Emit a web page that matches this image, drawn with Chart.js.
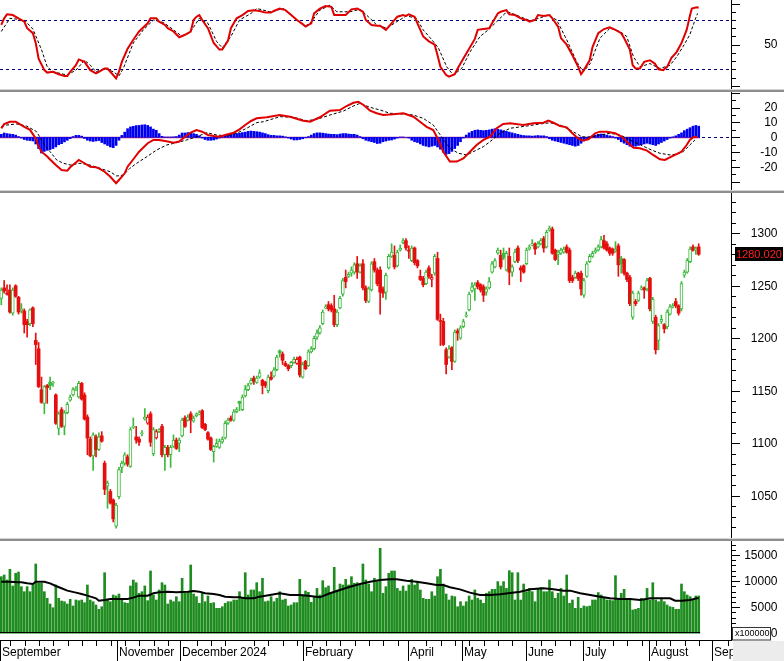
<!DOCTYPE html>
<html>
<head>
<meta charset="utf-8">
<script src="https://cdn.jsdelivr.net/npm/chart.js"></script>
<style>
  html, body { margin: 0; padding: 0; background: #fff; }
  #wrap { position: relative; width: 784px; height: 661px; overflow: hidden; background: #fff; }
  canvas { position: absolute; left: 0; }
  .sep { position: absolute; left: 0; width: 784px; height: 3px; box-sizing: border-box;
         border-top: 1px solid #d4d4d4; background: #8e8e8e; }
</style>
</head>
<body>
<div id="wrap">
  <canvas id="stoch" width="784" height="89" style="top:0"></canvas>
  <div class="sep" style="top:89px"></div>
  <canvas id="macd" width="784" height="98" style="top:92px"></canvas>
  <div class="sep" style="top:190px"></div>
  <canvas id="price" width="784" height="345" style="top:193px"></canvas>
  <div class="sep" style="top:538px"></div>
  <canvas id="vol" width="784" height="120" style="top:541px"></canvas>
</div>
<script>
// ---- data (one entry per trading day, index 0 = early Sep 2023) ----
const opens = [1238,1248,1243,1246,1224,1250,1239,1226,1226,1216, 1214,1229,1198,1190,1151,1138,1155,1158,1157,1146,
  1114,1132,1116,1129,1141,1146,1151,1144,1157,1146, 1125,1104,1088,1106,1094,1107,1081,1059,1054,1046,
  1021,1049,1077,1081,1087,1078,1115,1106,1104,1109, 1123,1119,1128,1090,1105,1111,1116,1089,1096,1089,
  1097,1103,1100,1107,1124,1122,1128,1121,1126,1128, 1131,1118,1110,1105,1092,1097,1096,1101,1105,1119,
  1124,1122,1130,1140,1132,1145,1151,1157,1162,1158, 1163,1160,1158,1150,1163,1164,1170,1188,1185,1176,
  1174,1174,1177,1176,1182,1163,1178,1174,1187,1190, 1201,1205,1214,1229,1232,1231,1228,1213,1229,1242,
  1258,1259,1262,1263,1271,1263,1271,1248,1235,1246, 1273,1265,1265,1247,1244,1267,1278,1279,1269,1284,
  1291,1293,1284,1274,1286,1274,1259,1257,1252,1267, 1256,1262,1276,1217,1216,1189,1182,1191,1178,1207,
  1200,1211,1221,1227,1245,1247,1253,1251,1249,1244, 1248,1263,1268,1281,1279,1281,1265,1278,1263,1273,
  1286,1267,1269,1271,1285,1289,1290,1287,1290,1295, 1287,1303,1304,1284,1280,1281,1282,1287,1284,1258,
  1258,1262,1262,1241,1259,1273,1278,1282,1284,1287, 1293,1290,1286,1285,1283,1288,1276,1275,1262,1258,
  1220,1235,1236,1247,1248,1247,1257,1216,1220,1198, 1216,1213,1211,1223,1230,1235,1231,1228,1260,1263,
  1273,1287,1284,1287];
const highs = [1248,1255,1251,1251,1248,1251,1240,1233,1228,1218, 1228,1230,1205,1196,1163,1155,1156,1163,1159,1147,
  1130,1134,1131,1139,1146,1153,1154,1159,1158,1148, 1127,1106,1110,1108,1110,1111,1083,1064,1056,1047,
  1043,1077,1083,1091,1089,1115,1124,1116,1106,1112, 1133,1127,1130,1115,1113,1114,1118,1098,1098,1098,
  1108,1105,1105,1124,1126,1127,1130,1126,1129,1131, 1132,1119,1111,1106,1098,1104,1104,1106,1121,1124,
  1126,1132,1134,1140,1146,1155,1157,1162,1164,1164, 1170,1161,1159,1165,1168,1172,1184,1189,1187,1178,
  1175,1178,1182,1182,1183,1177,1179,1189,1192,1202, 1208,1212,1227,1232,1235,1233,1241,1227,1240,1257,
  1265,1263,1268,1272,1278,1271,1275,1250,1249,1273, 1276,1267,1268,1249,1262,1280,1290,1288,1284,1289,
  1295,1295,1288,1288,1287,1275,1265,1259,1265,1269, 1261,1280,1282,1223,1219,1191,1193,1192,1208,1209,
  1212,1218,1225,1244,1253,1253,1255,1252,1251,1249, 1258,1273,1276,1286,1284,1286,1283,1286,1270,1285,
  1288,1269,1270,1286,1289,1294,1291,1292,1295,1297, 1303,1307,1306,1285,1284,1286,1287,1289,1286,1260,
  1264,1263,1264,1257,1273,1280,1283,1286,1289,1297, 1298,1292,1287,1286,1292,1290,1278,1276,1263,1260,
  1245,1237,1245,1250,1249,1257,1258,1239,1222,1214, 1222,1214,1227,1232,1233,1238,1232,1254,1265,1276,
  1287,1289,1287,1290];
const lows = [1232,1243,1241,1224,1222,1239,1223,1224,1205,1201, 1212,1211,1175,1153,1138,1128,1138,1151,1154,1118,
  1108,1115,1108,1128,1140,1145,1150,1143,1141,1122, 1089,1087,1074,1087,1093,1101,1051,1038,1042,1025,
  1019,1047,1072,1079,1078,1077,1114,1100,1098,1107, 1122,1118,1097,1088,1104,1110,1087,1074,1087,1077,
  1096,1094,1092,1106,1115,1121,1110,1120,1125,1127, 1114,1112,1103,1093,1082,1096,1095,1100,1104,1118,
  1121,1121,1129,1131,1131,1144,1150,1156,1156,1157, 1162,1147,1153,1148,1160,1163,1169,1182,1175,1173,
  1169,1172,1176,1175,1163,1162,1170,1173,1186,1189, 1199,1204,1213,1228,1226,1225,1211,1211,1228,1240,
  1248,1258,1259,1261,1257,1262,1246,1234,1234,1245, 1263,1250,1223,1239,1237,1266,1277,1266,1268,1283,
  1290,1284,1276,1273,1270,1267,1255,1249,1251,1257, 1249,1260,1217,1193,1193,1166,1181,1170,1177,1198,
  1199,1210,1220,1226,1244,1236,1247,1244,1235,1241, 1247,1262,1267,1280,1266,1275,1264,1251,1259,1272,
  1272,1254,1262,1270,1284,1288,1280,1286,1289,1282, 1286,1302,1280,1274,1270,1280,1281,1281,1253,1253,
  1257,1255,1241,1239,1258,1272,1277,1281,1283,1286, 1285,1283,1279,1279,1282,1259,1262,1260,1254,1231,
  1218,1231,1235,1246,1238,1245,1226,1214,1185,1189, 1214,1205,1209,1222,1229,1229,1222,1226,1258,1262,
  1272,1283,1280,1279];
const closes = [1246,1245,1242,1225,1246,1240,1225,1228,1213,1213, 1227,1214,1194,1154,1139,1154,1153,1155,1158,1119,
  1128,1116,1129,1137,1144,1151,1152,1157,1142,1123, 1105,1088,1108,1094,1106,1102,1056,1062,1043,1028,
  1041,1075,1081,1089,1080,1113,1116,1103,1101,1110, 1125,1125,1101,1113,1111,1113,1089,1096,1089,1096,
  1103,1095,1103,1122,1116,1125,1122,1124,1128,1129, 1115,1113,1104,1094,1097,1100,1102,1104,1119,1122,
  1122,1130,1132,1138,1144,1151,1155,1160,1159,1162, 1167,1155,1155,1163,1161,1170,1182,1186,1179,1174,
  1171,1177,1180,1180,1165,1175,1171,1187,1190,1200, 1205,1210,1225,1230,1228,1227,1213,1225,1238,1255,
  1254,1261,1265,1270,1263,1269,1248,1236,1247,1271, 1265,1252,1244,1243,1260,1278,1282,1268,1282,1286,
  1293,1286,1283,1286,1272,1269,1256,1251,1263,1259, 1258,1278,1218,1216,1194,1175,1190,1178,1206,1205,
  1210,1216,1222,1242,1249,1251,1249,1246,1241,1247, 1254,1271,1274,1284,1268,1277,1281,1263,1268,1282,
  1274,1265,1263,1284,1287,1290,1285,1290,1293,1286, 1301,1305,1281,1275,1282,1284,1285,1282,1255,1255,
  1262,1257,1247,1255,1271,1278,1281,1284,1287,1294, 1286,1284,1281,1281,1285,1270,1271,1262,1256,1233,
  1243,1233,1243,1248,1246,1255,1228,1237,1189,1212, 1218,1209,1225,1230,1231,1231,1224,1252,1263,1274,
  1285,1284,1286,1280.02];

// volume, units of 100000 shares
const volumes = [10845,11170,10212,12262,9063,11496,11745,8929,7970,8929, 7970,9254,13278,9580,9580,7970,6706,5614,4905,9254,
  6706,6189,6054,5614,6514,5231,6380,6246,6380,5863, 9254,6380,6054,5422,4598,5096,11611,6380,6054,7338,
  7147,7530,6514,5863,5748,9063,10212,9695,7664,7970, 9063,6246,11937,7338,6380,8296,9695,9254,5614,6380,
  6054,7013,6054,10538,7664,7970,13086,7530,7013,5748, 7664,6054,7147,5748,5863,4790,4790,5096,5748,6054,
  6054,6380,6380,7970,6706,11611,7338,8296,8296,9695, 7970,10538,6054,6189,7013,6054,6706,7970,6380,6550,
  5231,5422,5863,5863,10340,7338,8100,7850,5930,7013, 8600,7338,10080,8740,9063,7664,12640,8296,9440,9254,
  10340,9254,10845,9580,9695,9254,13278,10212,9440,7970, 10538,9900,16286,7664,8929,11496,11937,11937,8600,8100,
  9063,8100,9254,10340,9254,9695,8296,6706,6514,6514, 7970,7147,10845,12262,9440,7530,6380,7147,7013,5096,
  6054,5231,6054,7147,6380,8296,6706,6380,5748,7664, 7970,8420,8420,9900,9063,9900,8600,12000,11611,6380,
  11611,6380,9440,7970,8600,7970,6054,8420,8800,7970, 7970,10212,7970,6706,7664,8600,7147,11170,5748,6380,
  4790,6900,4790,5231,5096,5231,6380,6380,7800,7338, 6850,6380,6380,6246,11040,6706,7664,8420,6380,6706,
  4470,4598,4790,6706,6380,8600,6380,9695,6380,6054, 6706,6054,5422,5096,4970,4598,4598,9440,7970,7338,
  7013,6380,7147,7147];

// volume moving average, [day index, value]
const volAvg = [[0,9890],[3,9890],[6,9770],[7,9770],[9,9570],[11,9450],[12,9890],[15,9890],[17,9570],[19,9060],
  [21,8620],[23,8170],[26,7790],[28,7530],[30,7210],[33,6700],[34,6250],[36,6380],[38,6570],[41,6570],[44,6570],
  [46,6830],[48,7210],[51,7210],[53,7660],[55,7850],[58,7980],[61,7850],[65,7980],[67,8100],[69,7980],[71,7660],
  [74,7530],[76,7340],[78,7020],[81,6890],[83,6890],[85,6700],[88,6700],[90,7020],[93.6,7340],[97.1,7660],
  [100.6,7340],[104.1,7340],[107.6,7150],[111,6890],[114.5,7660],[118,8300],[121.5,8930],[125,9450],[128.5,9890],
  [132,10210],[135.4,10340],[137.8,10340],[141.2,10080],[144.7,9890],[148.2,9570],[151.7,9250],[154,9250],
  [156.3,8810],[159.8,8420],[163.3,7790],[166.8,7340],[170.3,7340],[173.8,7470],[177.3,7720],[180.8,7980],
  [184.3,8420],[188.9,8620],[192.4,8420],[195.9,8170],[198.2,8170],[201.7,7660],[205.2,7340],[208.6,7020],
  [212.1,6700],[215.6,6570],[219.1,6570],[222.6,6380],[226.1,6700],[229.5,6700],[233,6700],[234.8,6250],
  [237.1,6250],[240,6380],[242.3,6700],[243,6700]];

// stochastic %K and %D, [day index, value]
const stochK = [[0,74],[1,82],[2,87],[4,86],[6,82],[8,78],[9,70],[11,64],[12,52],[13,33],[15,19],[16,16],[18,17],
  [20,14],[22,12],[23,12],[24,17],[26,25],[27,32],[29,29],[31,19],[33,15],[34,17],[36,21],[37,21],[38,17],[40,9],
  [41,17],[42,29],[44,45],[46,56],[48,66],[51,76],[52,82],[54,82],[55,78],[57,74],[58,70],[60,66],[62,59],[64,62],
  [66,66],[67,80],[68,84],[69,86],[70,80],[72,70],[74,52],[76,44],[77,44],[79,55],[80,70],[82,82],[84,86],[86,91],
  [88,92],[90,91],[92,89],[94,89],[95,91],[97,94],[99,92],[101,86],[103,80],[105,75],[106,72],[108,76],[109,88],
  [111,94],[113,97],[115,96],[116,86],[118,86],[120,86],[122,93],[124,94],[126,90],[127,80],[129,74],[131,73],
  [132,73],[134,68],[135,72],[138,84],[140,86],[141,85],[142,87],[144,84],[145,76],[146,68],[147,60],[149,54],
  [151,50],[152,37],[153,23],[155,13],[156,11],[158,14],[159,21],[161,33],[163,45],[165,57],[166,68],[168,69],
  [170,70],[171,76],[173,88],[174,90],[176,92],[177,87],[179,86],[181,82],[183,80],[184,78],[186,80],[187,86],
  [189,85],[191,86],[192,82],[194,72],[195,58],[197,50],[199,37],[201,23],[202,14],[203,19],[205,31],[206,47],
  [208,64],[210,69],[212,71],[214,68],[216,64],[217,58],[219,44],[220,25],[221,21],[222.5,21],[224,29],[226,31],
  [227.7,27],[229,20],[230.6,19],[232,23],[233.5,34],[235.3,41],[237,52],[238.8,68],[240,86],[240.6,94],
  [242.3,95.4],[243,95]];
const stochD = [[0,66],[3,82],[8,80],[11,69],[14,44],[16,23],[18,17],[23,13],[26,19],[29,31],[31,25],[33,17],
  [36,21],[39,17],[41,12],[42.5,21],[46,52],[49.5,68],[53,80],[56.5,77],[60,68],[63,60],[66,66],[69,82],[72,76],
  [75,54],[77,46],[80,60],[83,80],[87,88],[89,94],[93.6,90],[98.3,94],[101.8,84],[105.8,72],[108.1,78],[111,92],
  [114.5,98],[116.9,90],[121.5,90],[125,93],[127.9,84],[130.8,74],[134.3,70],[137.8,78],[141.2,85],[144.7,82],
  [147,68],[150,56],[152.3,46],[155.2,23],[157.5,13],[160.4,21],[163.3,41],[166.8,60],[169.7,68],[172.6,78],
  [175.5,88],[177.3,89],[180.8,84],[184.3,79],[187.2,82],[190.6,86],[193.5,80],[197,56],[200.5,29],[202.8,17],
  [205.2,27],[208.6,58],[212.1,70],[215.6,66],[217.9,60],[220.3,35],[222.6,23],[226,27],[229.5,21],[233,25],
  [235.5,36],[237.6,48],[239.9,62],[241.7,80],[242.6,88]];

// MACD line, signal line [day index, value] and histogram (one per day)
const macdLine = [[0,6],[1,9],[3,10.5],[5,10.5],[6,9.4],[8,7],[10,5],[12,-0.7],[13,-6.3],[14,-9.7],[16,-13],[17,-15],
  [19,-18.7],[21,-22],[23,-22.5],[24,-20.2],[26,-17],[27,-15.3],[29,-17.5],[31,-19.8],[33,-20.2],[34,-21],[36,-23.2],
  [38,-26.6],[40,-31],[41,-28.8],[43,-24.3],[44,-19.8],[46,-14.8],[48,-9.7],[51,-4],[53,-1.8],[55,-1.8],[58,-2.9],
  [60,-3.6],[62,-2.9],[64,0.4],[66,3.1],[68,4.9],[70,3.8],[72,1.6],[74,0.9],[76,0.4],[78,1.6],[81,3.1],[83,5.4],
  [85,8.3],[87,11],[89,12.8],[92.5,13.5],[97,15],[100.6,13.9],[105.2,11.2],[107.6,10.5],[111,13.5],[114.5,17.9],
  [118,18.4],[120.3,21.1],[122.7,23.3],[124.4,24],[126.2,21.8],[128.5,18],[130.8,16.2],[133.1,15],[136.6,15.5],
  [140.1,16.2],[143.6,13.9],[145.9,10.5],[148.2,7.1],[150.5,4.9],[152.3,-1.8],[154,-9.7],[156.3,-16.4],
  [158.7,-16.4],[161,-14.2],[163.3,-9.7],[165.6,-5.2],[168,-1.8],[170.3,0.4],[172.6,6.1],[174.9,9],[177.3,9.4],
  [181.9,8.3],[185.4,9.4],[188.9,9.8],[190.6,11.2],[192.4,9.8],[194.7,7.6],[197,6.7],[198.8,3.1],[200.5,0],
  [202.3,-2.3],[204.6,-1.3],[206.9,2.7],[208.6,3.8],[211,3.8],[213.9,2.7],[216.2,0.4],[218.5,-4],[220.3,-7],
  [222.5,-7.4],[225,-9],[227.1,-11.9],[229.5,-14.8],[231.2,-15.3],[233.5,-13],[235.3,-11.3],[237,-9.7],
  [238.8,-5.2],[239.9,-1.8],[241.1,0],[242.5,0.4]];
const macdSignal = [[0,7.1],[1.9,8.3],[5.4,9],[8.8,7.6],[12.3,3.8],[14.7,-4],[17,-9.7],[19.3,-15.3],[21.6,-17.5],
  [24,-18.7],[27.4,-17.5],[30.9,-18.7],[34.4,-20.9],[37.9,-23.2],[40.2,-26.1],[42.5,-25.5],[44.8,-20.9],
  [47.2,-17.5],[50.7,-13.1],[54.1,-8.6],[57.6,-5.2],[61.1,-3.6],[64.6,-1.8],[68.1,0.4],[71.6,3.1],[75,1.6],
  [78.5,0.9],[82,2.7],[85.5,6.1],[89,9.9],[91.3,10.5],[97.1,13.9],[101.8,13.5],[106.4,11.2],[109.9,12.1],
  [114.5,15],[119.2,17.7],[122.7,21.1],[125,22.9],[128.5,20.2],[132,18.4],[135.4,16.2],[140.1,15.7],[143.6,15],
  [147,12.8],[150.5,8.3],[153.4,0.4],[156.3,-7.4],[159.3,-10.8],[162.2,-11.9],[165.6,-8.6],[168,-6.3],
  [170.3,-2.9],[173.8,2.7],[177.3,6.1],[183.1,7.6],[187.7,9],[191.2,9.8],[194.7,8.3],[198.2,4.9],[202.3,0.4],
  [205.2,0],[208.6,1.6],[212.1,2.7],[215.6,1.6],[219.1,-1.8],[222.6,-5],[226,-8.1],[229.5,-10.8],[233,-11.9],
  [235.3,-11.3],[237.6,-9.7],[239.9,-5.2],[241.7,-1.8]];
const macdHist = [2.0,2.9,2.5,2.2,2.0,1.5,0.5,-0.5,-1.5,-2.0, -2.2,-2.5,-4.5,-7.6,-10.6,-9.5,-8.8,-8.3,-7.6,-6.5,
  -5.0,-4.3,-3.1,-2.0,-0.9,0.5,1.3,1.3,0.8,-0.8, -2.0,-2.5,-2.8,-2.5,-2.2,-3.5,-4.5,-5.5,-6.5,-7.0,
  -5.5,-2.0,1.3,3.5,5.8,7.0,7.4,7.9,8.0,8.3, 8.5,8.0,7.0,5.5,4.7,2.5,0.7,0.2,0.2,0.2,
  0.3,0.5,1.5,2.9,2.9,3.2,3.0,2.5,2.0,1.0, -0.5,-1.5,-2.0,-2.0,-1.8,-1.2,-0.5,0.5,1.2,1.5,
  2.0,2.5,2.5,2.8,3.2,3.5,4.0,4.2,4.0,3.8, 3.5,3.0,2.5,1.8,1.3,1.3,1.0,1.0,0.8,0.3,
  -0.5,-1.2,-1.8,-1.8,-1.5,-1.0,-0.3,0.5,1.5,2.5, 3.0,3.0,2.8,2.5,2.2,2.0,2.0,1.8,2.2,2.5,
  2.5,2.2,2.0,2.0,1.5,0.5,-1.0,-2.0,-2.5,-3.0, -3.5,-4.2,-4.0,-3.0,-2.5,-2.0,-1.8,-1.2,-0.5,0.2,
  0.2,0.0,-0.5,-2.0,-3.0,-3.5,-4.5,-5.5,-6.0,-6.5, -6.0,-5.5,-6.5,-8.0,-10.0,-11.5,-11.0,-9.5,-7.6,-5.5,
  -3.0,-0.5,1.5,3.0,4.0,4.7,5.0,4.7,4.5,4.7, 5.0,5.5,5.8,5.5,5.0,4.5,4.0,3.5,3.0,2.5,
  2.0,1.5,1.2,1.0,1.0,0.8,1.0,1.2,1.0,1.0, 0.5,-1.0,-2.0,-2.5,-3.0,-3.5,-4.0,-4.5,-5.0,-5.5,
  -6.0,-5.5,-4.0,-2.5,-1.0,0.5,1.0,1.5,2.0,2.2, 2.0,1.5,1.0,0.5,-0.5,-1.5,-3.0,-4.0,-5.0,-6.0,
  -6.5,-6.0,-5.5,-5.0,-4.5,-4.0,-4.5,-5.0,-5.5,-4.5, -3.5,-2.5,-1.5,-0.5,0.3,1.0,2.0,3.0,4.5,5.5,
  6.5,7.5,8.0,7.5];

// x axis: month starts (day index), labels
const monthPos = [-0.45, 40.2, 62.1, 82.4, 105, 141.8, 160.6, 182.7, 202.8, 225.7, 247.6];
const monthLabels = ['September', 'November', 'December', '2024', 'February', 'April', 'May', 'June', 'July', 'August', 'Sep'];
const monthDivider = [true, true, true, false, true, true, true, true, true, true, true];

// right axis labels
const stochTicks = ['50'];
const macdTicks = ['20', '10', '0', '-10', '-20'];
const priceTicks = ['1300', '1250', '1200', '1150', '1100', '1050'];
const volTicks = ['15000', '10000', '5000', '0'];

// ---- drawing ----
const FONT = '"Liberation Sans", Arial, sans-serif';
const X_MIN = -0.453, X_MAX = 254.25;
const RED = '#e50f0f', GREEN = '#3cb83c', NAVY = '#000080';

const pts = arr => arr.map(([x, y]) => ({ x, y }));

function baseOptions(yMin, yMax, showX) {
  const x = {
    type: 'linear', min: X_MIN, max: X_MAX, offset: false, display: showX,
    grid: { display: false }, ticks: { display: false },
    border: { display: true, color: '#000', width: 1 }
  };
  if (showX) x.afterFit = s => { s.height = 21; };
  return {
    responsive: false,
    animation: false,
    events: [],
    layout: { padding: 0 },
    plugins: { legend: { display: false }, tooltip: { enabled: false } },
    scales: {
      x,
      y: {
        type: 'linear', position: 'right', min: yMin, max: yMax,
        grid: { display: false }, ticks: { display: false },
        border: { display: true, color: '#000', width: 1 },
        afterFit: s => { s.width = 53; }
      }
    }
  };
}

// tick marks + labels on the right axis, reference lines under the data
function panelDecor(cfg) {
  return {
    id: 'panelDecor',
    beforeDatasetsDraw(chart) {
      const { ctx, chartArea: a } = chart;
      const xs = chart.scales.x, ys = chart.scales.y;
      (cfg.lines || []).forEach(l => {
        const py = Math.round(ys.getPixelForValue(l.v)) + 0.5;
        const xa = l.from != null ? xs.getPixelForValue(l.from) : a.left;
        const xb = l.to != null ? xs.getPixelForValue(l.to) : a.right;
        ctx.save();
        ctx.strokeStyle = l.color;
        ctx.lineWidth = l.width || 1;
        ctx.setLineDash(l.dash || []);
        ctx.beginPath();
        ctx.moveTo(xa, py);
        ctx.lineTo(xb, py);
        ctx.stroke();
        ctx.restore();
      });
    },
    afterDraw(chart) {
      const { ctx, chartArea: a } = chart;
      const ys = chart.scales.y;
      const x0 = a.right + 1;
      ctx.save();
      ctx.fillStyle = '#000';
      for (let v = cfg.from; v <= cfg.to + 1e-6; v += cfg.minor) {
        const py = Math.round(ys.getPixelForValue(v));
        const r = v / cfg.major;
        const major = Math.abs(r - Math.round(r)) < 1e-6;
        ctx.fillRect(x0, py, major ? 8 : 4, 1);
      }
      if (cfg.after) cfg.after(chart, ctx);
      ctx.font = '12px ' + FONT;
      ctx.textAlign = 'right';
      ctx.textBaseline = 'middle';
      ctx.fillStyle = '#000';
      cfg.labels.forEach(t => ctx.fillText(t, 777.5, ys.getPixelForValue(parseFloat(t)) + 0.5));
      ctx.restore();
    }
  };
}

// ---- stochastic panel ----
new Chart(document.getElementById('stoch'), {
  type: 'line',
  data: {
    datasets: [
      { data: pts(stochK), borderColor: '#e00000', borderWidth: 2, pointRadius: 0, tension: 0 },
      { data: pts(stochD), borderColor: '#000', borderWidth: 1, borderDash: [3, 2], pointRadius: 0, tension: 0 }
    ]
  },
  options: baseOptions(-3.97, 104.34, false),
  plugins: [panelDecor({
    from: 0, to: 100, minor: 10, major: 50, labels: stochTicks,
    lines: [{ v: 80, color: NAVY, dash: [3, 3] }, { v: 20, color: NAVY, dash: [3, 3] }]
  })]
});

// ---- MACD panel ----
new Chart(document.getElementById('macd'), {
  type: 'bar',
  data: {
    datasets: [
      { type: 'line', order: 0, data: pts(macdLine), borderColor: '#e00000', borderWidth: 2, pointRadius: 0, tension: 0 },
      { type: 'line', order: 1, data: pts(macdSignal), borderColor: '#000', borderWidth: 1, borderDash: [3, 2], pointRadius: 0, tension: 0 },
      { type: 'bar', order: 2, data: macdHist.map((v, i) => ({ x: i, y: v })), backgroundColor: '#0000f0',
        barThickness: 2, grouped: false, borderWidth: 0 }
    ]
  },
  options: baseOptions(-35.54, 30.55, false),
  plugins: [panelDecor({
    from: -30, to: 30, minor: 5, major: 10, labels: macdTicks,
    lines: [{ v: 0, color: NAVY, dash: [3, 3] }, { v: 0, color: '#b8307c', width: 1.5, from: -0.45, to: opens.length - 0.5 }]
  })]
});

// ---- price panel (candles as floating bars) ----
const candleColor = closes.map((c, i) => (i > 0 && c <= closes[i - 1]) ? RED : GREEN);
const hollow = closes.map((c, i) => c >= opens[i]);

new Chart(document.getElementById('price'), {
  type: 'bar',
  data: {
    datasets: [
      {
        order: 0, grouped: false, barThickness: 3, borderSkipped: false,
        data: opens.map((o, i) => ({ x: i, y: [o, closes[i]] })),
        backgroundColor: candleColor.map((c, i) => hollow[i] ? '#fff' : c),
        borderColor: candleColor,
        borderWidth: hollow.map(h => h ? 1 : 0)
      },
      {
        order: 1, grouped: false, barThickness: 1, borderWidth: 0,
        data: lows.map((l, i) => ({ x: i, y: [l, highs[i]] })),
        backgroundColor: candleColor
      }
    ]
  },
  options: baseOptions(1009.7, 1338.4, false),
  plugins: [panelDecor({
    from: 1010, to: 1330, minor: 10, major: 50, labels: priceTicks,
    after(chart, ctx) {
      const last = closes[closes.length - 1];
      const py = chart.scales.y.getPixelForValue(last);
      ctx.fillStyle = '#000';
      ctx.fillRect(735, Math.round(py) - 7, 48, 14);
      ctx.fillStyle = '#ff2020';
      ctx.font = '11px ' + FONT;
      ctx.textAlign = 'left';
      ctx.textBaseline = 'middle';
      ctx.fillText(last.toFixed(3), 736, py + 0.5);
    }
  })]
});

// ---- volume panel + time axis ----
const timeAxis = {
  id: 'timeAxis',
  afterDraw(chart) {
    const { ctx, chartArea: a } = chart;
    const xs = chart.scales.x;
    const top = a.bottom + 1;
    ctx.save();
    ctx.fillStyle = '#000';
    for (let v = 3.1; v < X_MAX; v += 5) {
      if (monthPos.some(m => Math.abs(m - v) < 1.5)) continue;
      ctx.fillRect(Math.round(xs.getPixelForValue(v)), top, 1, 5);
    }
    ctx.font = '12px ' + FONT;
    ctx.textAlign = 'left';
    ctx.textBaseline = 'middle';
    monthPos.forEach((v, i) => {
      const px = Math.max(0, Math.round(xs.getPixelForValue(v)));
      if (monthDivider[i]) ctx.fillRect(px, top, 1, chart.height - top);
      ctx.fillText(monthLabels[i], px + 2, top + 12);
    });
    ctx.fillStyle = '#ececec';
    ctx.fillRect(a.right + 2, top, chart.width - a.right - 2, chart.height - top);
    ctx.restore();
  }
};

new Chart(document.getElementById('vol'), {
  type: 'bar',
  data: {
    datasets: [
      { type: 'line', order: 0, data: pts(volAvg), borderColor: '#000', borderWidth: 2, pointRadius: 0, tension: 0 },
      { type: 'bar', order: 1, grouped: false, barThickness: 2, borderWidth: 0,
        data: volumes.map((v, i) => ({ x: i, y: v })), backgroundColor: '#1f8c1f' }
    ]
  },
  options: baseOptions(-1284, 17682, true),
  plugins: [panelDecor({
    from: 0, to: 17000, minor: 1000, major: 5000, labels: volTicks,
    lines: [],
    after(chart, ctx) {
      const a = chart.chartArea;
      const xs = chart.scales.x, ys = chart.scales.y;
      const py = Math.round(ys.getPixelForValue(0)) - 0.5;
      ctx.strokeStyle = '#000';
      ctx.lineWidth = 1;
      ctx.beginPath();
      ctx.moveTo(xs.getPixelForValue(-0.45), py);
      ctx.lineTo(xs.getPixelForValue(opens.length - 0.5), py);
      ctx.stroke();
      ctx.fillStyle = '#fff';
      ctx.fillRect(732, a.bottom - 13, 39, 13);
      ctx.strokeStyle = '#333';
      ctx.strokeRect(732.5, a.bottom - 12.5, 38, 12.5);
      ctx.fillStyle = '#000';
      ctx.font = '9px ' + FONT;
      ctx.textAlign = 'left';
      ctx.textBaseline = 'middle';
      ctx.fillText('x100000', 735, a.bottom - 6);
    }
  }), timeAxis]
});
</script>
</body>
</html>
